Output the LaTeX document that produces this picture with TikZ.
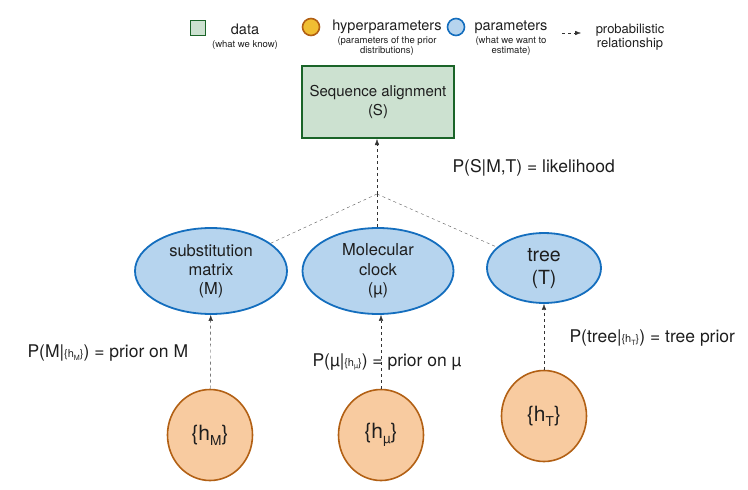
\documentclass[tikz,border=0pt]{standalone}
\usepackage{fontspec}
\setmainfont{TeX Gyre Heros}
\usetikzlibrary{shapes.geometric, arrows.meta}
\definecolor{dataFill}{RGB}{204, 225, 208}
\definecolor{dataLine}{RGB}{26, 100, 40}
\definecolor{parFill}{RGB}{182, 212, 238}
\definecolor{parLine}{RGB}{20, 110, 190}
\definecolor{hypFill}{RGB}{248, 203, 160}
\definecolor{hypLine}{RGB}{178, 96, 20}
\definecolor{hypDot}{RGB}{240, 190, 50}
\definecolor{txtGray}{RGB}{30, 30, 30}
\newcommand{\fsz}[1]{\fontsize{#1}{#1}\selectfont}
\newcommand{\lowsub}[1]{\raisebox{-0.45ex}{\fontsize{0.65em}{0.65em}\selectfont #1}}

\tikzset{
  param/.style={ellipse, draw=parLine, fill=parFill, line width=1.8pt, inner sep=0pt,
    align=center, text=txtGray, font=\fsz{16.5}},
  hyper/.style={ellipse, draw=hypLine, fill=hypFill, line width=1.6pt, inner sep=0pt,
    minimum width=85pt, minimum height=91pt, text=txtGray, font=\fsz{21}},
  prob/.style={dashed, black!80, thin, -{Latex[length=6pt,width=4.5pt]}},
  branch/.style={dashed, black!65, thin},
  legtxt/.style={text=txtGray, font=\fsz{14.5}},
  legsmall/.style={text=txtGray, font=\fsz{9.5}, align=center},
  eqtxt/.style={text=txtGray, font=\fsz{17.5}, anchor=west}
}

\begin{document}
\begin{tikzpicture}[x=1pt, y=-1pt]
  \useasboundingbox (0,0) rectangle (748,490);

  % legend
  \node[draw=dataLine, fill=dataFill, line width=1.8pt, minimum size=15pt, inner sep=0pt] (legdata) at (198,28) {};
  \node[legtxt] (legdatatxt) at (245,29) {data};
  \node[legsmall] (legdatasub) at (245,45) {(what we know)};
  \node[circle, draw=hypLine, fill=hypDot, line width=1.6pt, minimum size=17pt, inner sep=0pt] (leghyp) at (311,27) {};
  \node[legtxt] (leghyptxt) at (387,27) {hyperparameters};
  \node[legsmall] (leghypsub) at (387,46) {(parameters of the prior\\distributions)};
  \node[circle, draw=parLine, fill=parFill, line width=1.6pt, minimum size=17pt, inner sep=0pt] (legpar) at (456,27) {};
  \node[legtxt] (legpartxt) at (511,27) {parameters};
  \node[legsmall] (legparsub) at (511,46) {(what we want to\\estimate)};
  \coordinate (legA) at (562,33);
  \coordinate (legB) at (581,33);
  \draw[prob] (legA) -- (legB);
  \node[legtxt, align=center, font=\fsz{13}] (legprob) at (630,37) {probabilistic\\[1pt]relationship};

  % data
  \node[draw=dataLine, fill=dataFill, line width=2pt, minimum width=152pt, minimum height=72pt,
    align=center, text=txtGray, font=\fsz{15}] (seq) at (378,102) {Sequence alignment\\[4pt](S)};

  % parameters
  \node[param, minimum width=152pt, minimum height=86pt] (subst) at (211,271) {\strut substitution\\[2pt]matrix\\[2pt](M)};
  \node[param, minimum width=151pt, minimum height=86pt] (clock) at (378,271) {\strut Molecular\\[2pt]clock\\[2pt](µ)};
  \node[param, minimum width=114pt, minimum height=70pt, font=\fsz{19.5}] (tree) at (544,268) {\strut tree\\[2pt](T)};

  % hyperparameters
  \node[hyper] (hM) at (210,435) {\{h\lowsub{M}\}};
  \node[hyper] (hmu) at (381,435) {\{h\lowsub{µ}\}};
  \node[hyper] (hT) at (544,416) {\{h\lowsub{T}\}};

  % relationships
  \coordinate (join) at (377,194);
  \draw[prob] (join) -- (seq.south -| join);
  \draw[branch] (join) -- (subst);
  \draw[branch] (join) -- (tree);
  \draw[dashed, black!80, thin] (join) -- (clock.north -| join);
  \draw[prob] (hM) -- (subst);
  \draw[prob] (hmu) -- (clock.south -| hmu);
  \draw[prob] (hT) -- (tree);

  % labels
  \node[eqtxt] (lik) at (449,168) {P(S|M,T) = likelihood};
  \node[eqtxt] (priorM) at (24,353) {P(M|{\fsz{11}\{h\lowsub{M}\}}) = prior on M};
  \node[eqtxt] (priormu) at (309,362) {P(µ|{\fsz{11}\{h\lowsub{µ}\}}) = prior on µ};
  \node[eqtxt] (priorT) at (566,338) {P(tree|{\fsz{11}\{h\lowsub{T}\}}) = tree prior};
\end{tikzpicture}
\end{document}
